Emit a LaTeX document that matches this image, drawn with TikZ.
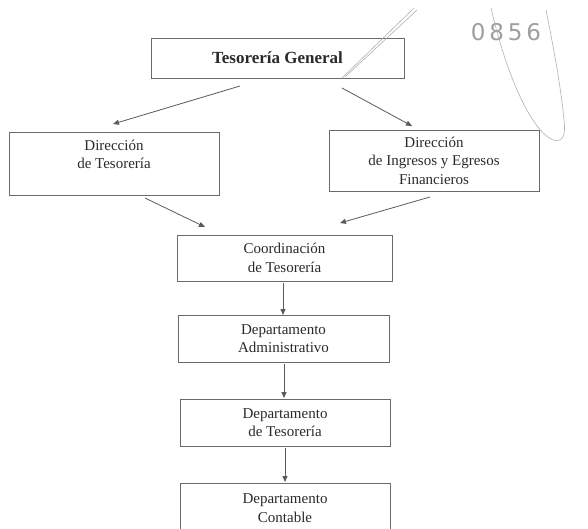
\documentclass[tikz,border=0pt]{standalone}
\usepackage{fontspec}
\setmainfont{Liberation Serif}
\newfontfamily\stampfont{DejaVu Sans}
\usetikzlibrary{arrows.meta}
\definecolor{boxline}{HTML}{6A6A6A}
\definecolor{arrline}{HTML}{5A5A5A}
\definecolor{txt}{HTML}{2A2A2A}
\begin{document}
\begin{tikzpicture}[x=1pt,y=-1pt,
  orgbox/.style={draw=boxline, line width=1pt, rectangle, align=center, inner sep=0pt,
    text=txt, font=\fontsize{15}{18.5}\selectfont},
  conn/.style={draw=arrline, line width=0.8pt, -{Triangle[length=6pt,width=5pt]}},
  scan/.style={draw=black!30, line width=0.6pt}
]
\useasboundingbox (0,0) rectangle (588,528);
\fill[white] (0,0) rectangle (588,528);

\node[orgbox, minimum width=253pt, minimum height=40pt, font=\fontsize{17}{20}\selectfont\bfseries]
  (tg) at (277.5,58) {Tesorería General};
\node[orgbox, minimum width=210pt, minimum height=63pt]
  (dt) at (114,163.5) {Dirección\\de Tesorería\\\phantom{x}};
\node[orgbox, minimum width=210pt, minimum height=61pt]
  (di) at (434,160.5) {Dirección\\de Ingresos y Egresos\\Financieros};
\node[orgbox, minimum width=215pt, minimum height=46pt]
  (ct) at (284.5,258) {Coordinación\\de Tesorería};
\node[orgbox, minimum width=211pt, minimum height=47pt]
  (da) at (283.5,338.5) {Departamento\\Administrativo};
\node[orgbox, minimum width=210pt, minimum height=47pt]
  (dte) at (285,422.5) {Departamento\\de Tesorería};
\node[orgbox, minimum width=210pt, minimum height=50pt]
  (dc) at (285,508) {Departamento\\Contable};

% connector end points (free-floating arrows between boxes)
\coordinate (tgL) at (240,86);
\coordinate (dtT) at (113,124);
\coordinate (tgR) at (342,88);
\coordinate (diT) at (412,126);
\coordinate (dtB) at (145,198);
\coordinate (ctL) at (205,227);
\coordinate (diB) at (430,197);
\coordinate (ctR) at (340,223);
\coordinate (ctB) at (283,283);
\coordinate (daT) at (283,315);
\coordinate (daB) at (284,364);
\coordinate (dteT) at (284,398);
\coordinate (dteB) at (285,448);
\coordinate (dcT) at (285,482);

\draw[conn] (tgL) -- (dtT);
\draw[conn] (tgR) -- (diT);
\draw[conn] (dtB) -- (ctL);
\draw[conn] (diB) -- (ctR);
\draw[conn] (ctB) -- (daT);
\draw[conn] (daB) -- (dteT);
\draw[conn] (dteB) -- (dcT);

% scan marks: stamp number, pen strokes
\node[text=black!38, font=\stampfont\fontsize{23}{23}\selectfont, inner sep=0pt] (stamp) at (506,32) {0\,8\,5\,6};
\draw[scan] (342,78) -- (414,8);
\draw[scan] (345,77) -- (417,10);
\draw[scan] (491,8) .. controls (505,70) and (530,130) .. (553,140)
  .. controls (562,142) and (566,138) .. (564,120)
  .. controls (560,80) and (552,40) .. (546,10);
\end{tikzpicture}
\end{document}
